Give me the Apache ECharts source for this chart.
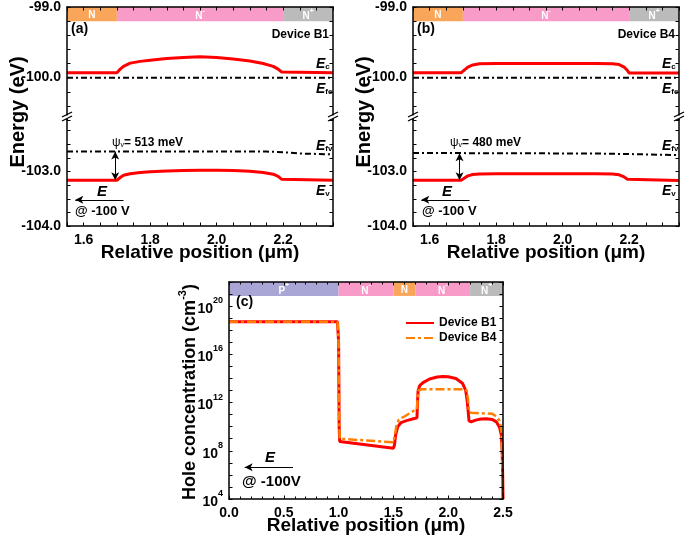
<!DOCTYPE html>
<html><head><meta charset="utf-8">
<script src="https://cdn.jsdelivr.net/npm/echarts@6/dist/echarts.min.js"></script>
<style>html,body{margin:0;padding:0;background:#fff}#c{width:685px;height:540px}</style>
</head><body><div id="c"></div>
<script>
// ---------------- DATA ----------------
// Panel (a) Device B1 band edges, [position (um), energy (eV)]
const ecB1 = [[1.55,-99.93],[1.70,-99.93],[1.71,-99.88],[1.72,-99.84],[1.74,-99.795],[1.77,-99.77],[1.80,-99.755],[1.85,-99.73],[1.90,-99.715],[1.95,-99.705],[2.00,-99.715],[2.05,-99.735],[2.10,-99.765],[2.14,-99.80],[2.17,-99.84],[2.185,-99.88],[2.195,-99.92],[2.20,-99.93],[2.35,-99.93]];
const efeB1 = [[1.55,-100.0],[2.35,-100.0]];
const evB1 = [[1.55,-103.16],[1.70,-103.16],[1.71,-103.11],[1.72,-103.07],[1.74,-103.04],[1.77,-103.02],[1.80,-103.005],[1.85,-102.99],[1.90,-102.98],[1.95,-102.975],[2.00,-102.975],[2.05,-102.98],[2.10,-102.995],[2.14,-103.02],[2.17,-103.05],[2.185,-103.09],[2.195,-103.14],[2.20,-103.16],[2.35,-103.16]];
const efvB1 = [[1.55,-102.635],[2.15,-102.635],[2.20,-102.645],[2.25,-102.67],[2.35,-102.685]];
const psiB1 = [[1.695,-102.635],[1.695,-103.16]];
// Panel (b) Device B4
const ecB4 = [[1.55,-99.93],[1.695,-99.93],[1.705,-99.89],[1.715,-99.85],[1.73,-99.82],[1.75,-99.805],[1.80,-99.80],[2.10,-99.80],[2.15,-99.805],[2.17,-99.815],[2.185,-99.85],[2.195,-99.9],[2.20,-99.935],[2.35,-99.935]];
const efeB4 = [[1.55,-100.0],[2.35,-100.0]];
const evB4 = [[1.55,-103.16],[1.695,-103.16],[1.705,-103.12],[1.715,-103.08],[1.73,-103.055],[1.75,-103.045],[1.80,-103.04],[2.10,-103.04],[2.15,-103.045],[2.17,-103.06],[2.185,-103.10],[2.195,-103.14],[2.20,-103.165],[2.35,-103.165]];
const efvB4 = [[1.55,-102.66],[2.10,-102.67],[2.20,-102.68],[2.35,-102.70]];
const psiB4 = [[1.69,-102.665],[1.69,-103.16]];
// Field arrows (a),(b): [start, end]
const fieldArrowAB = [[1.575,-103.52],[1.72,-103.52]];
// Panel (c) hole concentration (cm^-3)
const holeB1 = [[0,5e18],[0.99,5e18],[1.0,1e17],[1.005,1e10],[1.01,6e8],[1.5,1.6e8],[1.51,3e8],[1.52,2e9],[1.54,1e10],[1.57,2.2e10],[1.62,3.2e10],[1.69,4.7e10],[1.715,5.5e10],[1.72,1e12],[1.725,9e12],[1.74,2.5e13],[1.77,4.5e13],[1.83,9e13],[1.9,1.3e14],[1.95,1.45e14],[2.0,1.4e14],[2.07,1e14],[2.13,4e13],[2.16,1e13],[2.175,1e12],[2.19,3e10],[2.21,2.5e10],[2.25,3.5e10],[2.3,4.3e10],[2.35,4.5e10],[2.4,4e10],[2.44,2.5e10],[2.47,8e9],[2.485,2e9],[2.492,1e8],[2.497,1e6],[2.5,1e4]];
const holeB4 = [[0,5e18],[0.99,5e18],[1.0,1e17],[1.005,1e11],[1.01,1e9],[1.5,5e8],[1.51,1.5e9],[1.53,1.5e10],[1.55,4e10],[1.6,7e10],[1.69,2.2e11],[1.715,2.6e11],[1.72,2e12],[1.73,1e13],[1.76,1.3e13],[2.15,1.3e13],[2.17,1e13],[2.18,2e12],[2.19,1.8e11],[2.21,1.4e11],[2.3,1.3e11],[2.4,1.2e11],[2.44,7e10],[2.47,3e10],[2.485,5e9],[2.492,1e8],[2.497,1e6],[2.5,1e4]];
const fieldArrowC = [[0.143,4.3e6],[0.584,4.3e6]];
// Doping region bands
const bandsAB = [1.55,1.70,2.20,2.35];
const bandsABLabels = ['N','N-','N+'];
const bandsC = [0,1.0,1.5,1.7,2.2,2.5];
const bandsCLabels = ['P+','N-','N','N-','N+'];
// Tick labels
const xTicksAB = [1.6,1.8,2.0,2.2];
const yTicksUpper = [-99,-100];
const yTicksLower = [-103,-104];
const xTicksC = [0,0.5,1.0,1.5,2.0,2.5];
const yTicksCExp = [4,8,12,16,20];
const psiLabels = ['513','480'];

// ---------------- STYLE ----------------
const FONT = '"Liberation Sans", Arial, sans-serif';
const bandColor = {'N':'#F9A65A','N-':'#F99BC9','N+':'#BBBBBB','P+':'#A9A5D5'};
const near = (a,b)=>Math.abs(a-b)<1e-6;
const lineAxis = {show:true, onZero:false, lineStyle:{color:'#000',width:1.5}};
const tickIn = {show:true, inside:true, length:3.5, lineStyle:{color:'#000',width:1}};
const lblStyle = {color:'#000', fontFamily:FONT, fontWeight:'bold', fontSize:14};

function xAB(gi, pos, labels){
  return {type:'value', gridIndex:gi, position:pos, min:1.55, max:2.35, interval:0.05, z:10,
    axisLine:lineAxis, axisTick:tickIn, splitLine:{show:false},
    axisLabel:Object.assign({show:labels, margin:7, formatter:v=>xTicksAB.some(t=>near(t,v))?v.toFixed(1):''}, lblStyle)};
}
function yAB(gi, pos, lo, hi, step, ticks, labels){
  return {type:'value', gridIndex:gi, position:pos, min:lo, max:hi, interval:step, z:10,
    axisLine:lineAxis, axisTick:tickIn, splitLine:{show:false},
    axisLabel:Object.assign({show:labels, margin:6, formatter:v=>ticks.some(t=>near(t,v))?v.toFixed(1):''}, lblStyle)};
}
function bandArea(bounds, labels, yLo, yHi){
  const data = [];
  for(let i=0;i<labels.length;i++){
    data.push([{name:labels[i], xAxis:bounds[i], yAxis:yLo, itemStyle:{color:bandColor[labels[i]], opacity:1}},
               {xAxis:bounds[i+1], yAxis:yHi}]);
  }
  return {silent:true, data, label:{show:true, position:'inside', color:'#fff',
    formatter:p=>p.name.length>1?`{b|${p.name[0]}}{s|${p.name[1]==='-'?'-':'+'}}`:`{b|${p.name}}`,
    rich:{b:{color:'#fff',fontSize:10,fontWeight:'bold',fontFamily:FONT,verticalAlign:'bottom',lineHeight:12},
          s:{color:'#fff',fontSize:7,fontWeight:'bold',fontFamily:FONT,verticalAlign:'top',lineHeight:14}}},
    emphasis:{disabled:true}};
}
function arrows(pairs){
  return {silent:true, symbolSize:[6,8], lineStyle:{color:'#000',width:1,type:'solid'}, label:{show:false}, emphasis:{disabled:true},
    data:pairs.map(p=>[{coord:p.a, symbol:p.s0},{coord:p.b, symbol:p.s1}])};
}
const red = {color:'#FF0000', width:3};
const dashDot = {color:'#000', width:2, type:[6,3,2,3]};
function ln(name, data, xi, yi, ls, extra){
  return Object.assign({type:'line', name, data, xAxisIndex:xi, yAxisIndex:yi, symbol:'none', showSymbol:false,
    lineStyle:ls, itemStyle:{color:ls.color}, z:3}, extra||{});
}

// graphic helpers
function txt(x,y,text,font,extra){
  return Object.assign({type:'text', x, y, z:100, style:Object.assign({text, fill:'#000', font, align:'left', verticalAlign:'middle'}, extra||{})});
}
const eRich = {e:{fontFamily:FONT,fontStyle:'italic',fontWeight:'bold',fontSize:14,verticalAlign:'bottom',lineHeight:16},
               sub:{fontFamily:FONT,fontWeight:'bold',fontSize:8,verticalAlign:'bottom',lineHeight:12}};
function eLabel(x,y,sub){ return txt(x,y,`{e|E}{sub|${sub}}`,null,{rich:eRich}); }
function brk(x,y){
  return [{type:'rect', z:100, shape:{x:x-4,y:y-1.5,width:8,height:3.5}, style:{fill:'#fff'}},
          {type:'line', z:101, shape:{x1:x-5,y1:y,x2:x+5,y2:y-5}, style:{stroke:'#000',lineWidth:1.3}},
          {type:'line', z:101, shape:{x1:x-5,y1:y+4,x2:x+5,y2:y-1}, style:{stroke:'#000',lineWidth:1.3}}];
}
const bold = s=>`bold ${s}px ${FONT}`;
const graphics = [];
[[0,67],[1,413]].forEach(([k,L])=>{
  graphics.push(...brk(L,117),...brk(L+266,117));
  graphics.push(txt(L+4,29,k?'(b)':'(a)',bold(14)));
  graphics.push(txt(L+262,35,k?'Device B4':'Device B1',bold(12),{align:'right'}));
  graphics.push(eLabel(L+249,63,'c'), eLabel(L+249,88,'fe'), eLabel(L+249,145,'fv'), eLabel(L+249,190,'v'));
  graphics.push(txt(L+(k?37:45),142,`{p|ψ}{s|v}{t|= ${psiLabels[k]} meV}`,null,{rich:{
    p:{fontFamily:FONT,fontSize:12,verticalAlign:'bottom',lineHeight:14},
    s:{fontFamily:FONT,fontSize:7,verticalAlign:'bottom',lineHeight:10},
    t:{fontFamily:FONT,fontSize:12,fontWeight:'bold',verticalAlign:'bottom',lineHeight:14}}}));
  graphics.push(txt(L+(k?29:30),192,'E',`italic bold 15px ${FONT}`));
  graphics.push(txt(L+(k?9:8),211,'@ -100 V',bold(13)));
  graphics.push(txt(L+133,253,'Relative position (μm)',bold(19),{align:'center'}));
  graphics.push({type:'text', x:L-49, y:112, rotation:Math.PI/2, z:100,
    style:{text:'Energy (eV)', font:bold(20), fill:'#000', align:'center', verticalAlign:'middle'}});
});
graphics.push(txt(236,302,'(c)',bold(14)));
graphics.push(txt(265,458,'E',`italic bold 15px ${FONT}`));
graphics.push(txt(242,482,'@ -100V',bold(15)));
graphics.push(txt(366,526,'Relative position (μm)',bold(19),{align:'center'}));
graphics.push({type:'text', x:188, y:392, rotation:Math.PI/2, z:100,
  style:{text:'{t|Hole concentration (cm}{s|-3}{t|)}', fill:'#000', align:'center', verticalAlign:'middle',
    rich:{t:{fontFamily:FONT,fontWeight:'bold',fontSize:18,verticalAlign:'bottom',lineHeight:20},
          s:{fontFamily:FONT,fontWeight:'bold',fontSize:11,verticalAlign:'top',lineHeight:22}}}});

const cLabelRich = {b:{fontFamily:FONT,fontWeight:'bold',fontSize:14,color:'#000',verticalAlign:'bottom',lineHeight:16},
                    s:{fontFamily:FONT,fontWeight:'bold',fontSize:9,color:'#000',verticalAlign:'top',lineHeight:20}};
function yC(pos, labels){
  return {type:'log', logBase:10, gridIndex:4, position:pos, min:1e4, max:1e22, interval:1, z:10,
    axisLine:lineAxis, axisTick:tickIn, splitLine:{show:false},
    axisLabel:labels?{margin:6, formatter:v=>{const e=Math.round(Math.log10(v)); return yTicksCExp.includes(e)?`{b|10}{s|${e}}`:'';}, rich:cLabelRich}:{show:false}};
}

const option = {
  animation:false,
  backgroundColor:'#fff',
  grid:[
    {left:67, top:6, width:266, height:114},
    {left:67, top:117, width:266, height:109},
    {left:413, top:6, width:266, height:114},
    {left:413, top:117, width:266, height:109},
    {left:229, top:282, width:274, height:217}
  ],
  xAxis:[
    xAB(0,'top',false), xAB(1,'bottom',true), xAB(2,'top',false), xAB(3,'bottom',true),
    {type:'value', gridIndex:4, position:'bottom', min:0, max:2.5, interval:0.5, z:10, axisLine:lineAxis, axisTick:tickIn,
      minorTick:{show:true, splitNumber:5, length:2.5, lineStyle:{color:'#000',width:1}}, splitLine:{show:false},
      axisLabel:Object.assign({margin:7, formatter:v=>xTicksC.some(t=>near(t,v))?v.toFixed(1):''}, lblStyle)},
    {type:'value', gridIndex:4, position:'top', min:0, max:2.5, interval:0.5, z:10, axisLine:lineAxis, axisTick:tickIn,
      minorTick:{show:true, splitNumber:5, length:2.5, lineStyle:{color:'#000',width:1}}, splitLine:{show:false}, axisLabel:{show:false}}
  ],
  yAxis:[
    yAB(0,'left',-100.6,-99,0.2,yTicksUpper,true), yAB(0,'right',-100.6,-99,0.2,yTicksUpper,false),
    yAB(1,'left',-104,-102,0.25,yTicksLower,true), yAB(1,'right',-104,-102,0.25,yTicksLower,false),
    yAB(2,'left',-100.6,-99,0.2,yTicksUpper,true), yAB(2,'right',-100.6,-99,0.2,yTicksUpper,false),
    yAB(3,'left',-104,-102,0.25,yTicksLower,true), yAB(3,'right',-104,-102,0.25,yTicksLower,false),
    yC('left',true), yC('right',false)
  ],
  legend:{left:405, top:317, padding:0, orient:'vertical', itemWidth:28, itemHeight:10, itemGap:3, data:['Device B1','Device B4'],
    itemStyle:{opacity:0}, textStyle:{fontFamily:FONT, fontWeight:'bold', fontSize:12, color:'#000'}, selectedMode:false},
  graphic:graphics,
  series:[
    ln('ecB1', ecB1, 0, 0, red, {markArea:bandArea(bandsAB,bandsABLabels,-99.2,-99)}),
    ln('efeB1', efeB1, 0, 0, dashDot),
    ln('evB1', evB1, 1, 2, red),
    ln('efvB1', efvB1, 1, 2, dashDot, {markLine:arrows([{a:psiB1[0],b:psiB1[1],s0:'arrow',s1:'arrow'},{a:fieldArrowAB[0],b:fieldArrowAB[1],s0:'arrow',s1:'none'}])}),
    ln('ecB4', ecB4, 2, 4, red, {markArea:bandArea(bandsAB,bandsABLabels,-99.2,-99)}),
    ln('efeB4', efeB4, 2, 4, dashDot),
    ln('evB4', evB4, 3, 6, red),
    ln('efvB4', efvB4, 3, 6, dashDot, {markLine:arrows([{a:psiB4[0],b:psiB4[1],s0:'arrow',s1:'arrow'},{a:fieldArrowAB[0],b:fieldArrowAB[1],s0:'arrow',s1:'none'}])}),
    ln('Device B1', holeB1, 4, 8, {color:'#FF0000', width:3}, {markArea:bandArea(bandsC,bandsCLabels,7e20,1e22)}),
    ln('Device B4', holeB4, 4, 8, {color:'#FF8000', width:2.5, type:[9,3,3,3]}, {z:4, markLine:arrows([{a:fieldArrowC[0],b:fieldArrowC[1],s0:'arrow',s1:'none'}])})
  ]
};
const chart = echarts.init(document.getElementById('c'), null, {renderer:'canvas'});
chart.setOption(option);
</script></body></html>
